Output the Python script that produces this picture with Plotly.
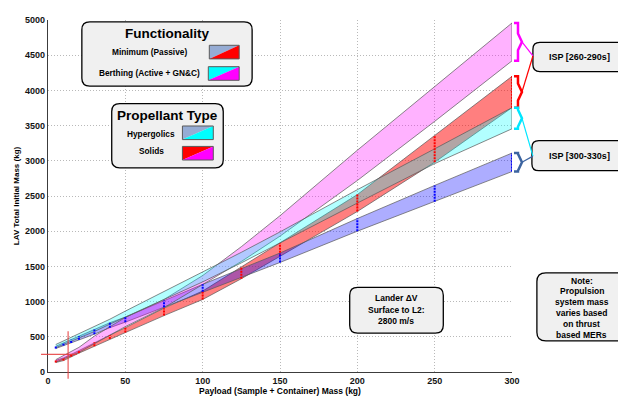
import plotly.graph_objects as go

# ---------------- data ----------------
payload_hyp = [5, 10, 15, 20, 30, 40, 50, 75, 100, 150, 200, 250, 300]
payload = [5, 10, 15, 20, 30, 40, 50, 75, 100, 125, 150, 200, 250, 300]

# Minimum (Passive) - Hypergolics  (ISP 300 -> upper, ISP 330 -> lower)
min_hyp_isp300 = [365, 412, 458, 510, 605, 700, 780, 1014, 1245, 1690, 2180, 2650, 3110]
min_hyp_isp330 = [333, 375, 412, 458, 537, 630, 708, 921, 1139, 1556, 2000, 2420, 2847]

# Minimum (Passive) - Solids (ISP 260 -> upper, ISP 290 -> lower)
min_sol_isp260 = [165, 200, 250, 306, 421, 523, 629, 907, 1150, 1495, 1830, 2520, 3360, 4200]
min_sol_isp290 = [135, 162, 218, 268, 365, 468, 560, 801, 1030, 1325, 1650, 2280, 2980, 3755]

# Berthing (Active + GN&C) - Hypergolics
ber_hyp_isp300 = [390, 440, 490, 540, 640, 750, 865, 1140, 1420, 1700, 1990, 2590, 3170, 3755]
ber_hyp_isp330 = [345, 390, 435, 480, 575, 680, 790, 1030, 1280, 1550, 1830, 2400, 2960, 3455]

# Berthing (Active + GN&C) - Solids
ber_sol_isp260 = [175, 230, 290, 350, 510, 640, 775, 1030, 1370, 1780, 2220, 3150, 4050, 4958]
ber_sol_isp290 = [140, 185, 230, 280, 400, 520, 645, 915, 1240, 1570, 1930, 2720, 3560, 4420]

x_ticks = [0, 50, 100, 150, 200, 250, 300]
y_ticks = [0, 500, 1000, 1500, 2000, 2500, 3000, 3500, 4000, 4500, 5000]

marker_point = (13, 250)

# ---------------- geometry helpers ----------------
# page body has an 8px margin; figure is sized so it ends at the window edge
OFF = 8
W, H = 626 - OFF, 401 - OFF
L, R, T, B = 46, 512, 15, 377   # plot area in window pixels


def px(x):
    return (x - L) / (R - L)


def py(y):
    return (B - y) / (B - T)


def rrect(x0, y0, x1, y1, r=7):
    rx = r / (R - L)
    ry = r / (B - T)
    X0, X1 = px(x0), px(x1)
    Y0, Y1 = py(y0), py(y1)
    return (f"M {X0+rx},{Y0} L {X1-rx},{Y0} Q {X1},{Y0} {X1},{Y0-ry} "
            f"L {X1},{Y1+ry} Q {X1},{Y1} {X1-rx},{Y1} L {X0+rx},{Y1} "
            f"Q {X0},{Y1} {X0},{Y1+ry} L {X0},{Y0-ry} Q {X0},{Y0} {X0+rx},{Y0} Z")


fig = go.Figure()


def band(xs, upper, lower, fill, name):
    fig.add_trace(go.Scatter(
        x=list(xs) + list(xs)[::-1],
        y=list(upper) + list(lower)[::-1],
        fill="toself", fillcolor=fill, mode="lines",
        line=dict(color="rgba(90,90,90,0.9)", width=0.8),
        name=name, showlegend=False, hoverinfo="skip"))


def ticks(xs, upper, lower, color):
    tx, ty = [], []
    for x, u, l in zip(xs, upper, lower):
        tx += [x, x, None]
        ty += [l, u, None]
    fig.add_trace(go.Scatter(x=tx, y=ty, mode="lines",
                             line=dict(color=color, width=2, dash="2px,1px"),
                             showlegend=False, hoverinfo="skip"))


band(payload, min_sol_isp260, min_sol_isp290, "rgba(255,0,0,0.5)", "Minimum - Solids")
band(payload_hyp, min_hyp_isp300, min_hyp_isp330, "rgba(0,0,255,0.32)", "Minimum - Hypergolics")
band(payload, ber_sol_isp260, ber_sol_isp290, "rgba(255,0,255,0.3)", "Berthing - Solids")
band(payload, ber_hyp_isp300, ber_hyp_isp330, "rgba(0,255,255,0.3)", "Berthing - Hypergolics")
ticks(payload, min_sol_isp260, min_sol_isp290, "rgb(255,0,0)")
ticks(payload_hyp, min_hyp_isp300, min_hyp_isp330, "rgb(0,0,255)")

shapes = []
annotations = []

# crosshair
mx, my = marker_point
shapes.append(dict(type="line", xref="paper", yref="y", x0=px(39), x1=px(75), y0=my, y1=my,
                   line=dict(color="rgba(230,60,60,0.85)", width=1.2)))
shapes.append(dict(type="line", xref="x", yref="paper", x0=mx, x1=mx, y0=py(335), y1=py(384),
                   line=dict(color="rgba(230,60,60,0.85)", width=1.2)))

BOXFILL = "rgb(240,240,240)"
FONT = "Liberation Sans, Arial, sans-serif"


def box(x0, y0, x1, y1, r=7):
    shapes.append(dict(type="path", xref="paper", yref="paper", path=rrect(x0, y0, x1, y1, r),
                       fillcolor=BOXFILL, line=dict(color="black", width=1.3), layer="above"))


def text(x, y, s, size=8.5, family=FONT, xanchor="center"):
    annotations.append(dict(xref="paper", yref="paper", x=px(x), y=py(y), text=s,
                            showarrow=False, xanchor=xanchor, yanchor="middle",
                            font=dict(size=size, family=family, color="black")))


def swatch(x0, y0, x1, y1, c1, c2):
    X0, X1, Y0, Y1 = px(x0), px(x1), py(y0), py(y1)
    shapes.append(dict(type="path", xref="paper", yref="paper",
                       path=f"M {X0},{Y0} L {X1},{Y0} L {X0},{Y1} Z",
                       fillcolor=c1, line=dict(width=0), layer="above"))
    shapes.append(dict(type="path", xref="paper", yref="paper",
                       path=f"M {X1},{Y0} L {X1},{Y1} L {X0},{Y1} Z",
                       fillcolor=c2, line=dict(width=0), layer="above"))
    shapes.append(dict(type="rect", xref="paper", yref="paper", x0=X0, x1=X1, y0=Y1, y1=Y0,
                       line=dict(color="rgb(90,90,90)", width=1), layer="above"))


STEEL = "rgb(150,172,212)"
# Functionality legend
box(80, 17, 251, 83, 8)
text(166, 29, "<b>Functionality</b>", size=13.5)
text(188, 48, "<b>Minimum (Passive)</b>", size=8.3, xanchor="right")
swatch(208, 41, 238, 55, STEEL, "rgb(255,0,0)")
text(201, 70, "<b>Berthing (Active + GN&C)</b>", size=8.3, xanchor="right")
swatch(207, 63, 238, 77, "rgb(0,255,255)", "rgb(255,0,255)")

# Propellant legend
box(110, 101, 222, 167, 8)
text(166, 113, "<b>Propellant Type</b>", size=13.5)
text(176, 132, "<b>Hypergolics</b>", size=8.3, xanchor="right")
swatch(181, 124, 212, 138, STEEL, "rgb(0,255,255)")
text(165, 150, "<b>Solids</b>", size=8.3, xanchor="right")
swatch(181, 145, 212, 159, "rgb(255,0,0)", "rgb(255,0,255)")

# Lander box
box(349, 290, 443, 337, 8)
text(396, 301, "<b>Lander ΔV</b>", size=8.5)
text(396, 313, "<b>Surface to L2:</b>", size=8.5)
text(396, 325, "<b>2800 m/s</b>", size=8.5)

# Note box
box(537, 275, 630, 345, 9)
for i, s in enumerate(["Note:", "Propulsion", "system mass", "varies based", "on thrust", "based MERs"]):
    text(582, 283 + i * 11.2, f"<b>{s}</b>", size=8.5)

# ISP boxes
box(533, 38, 630, 68, 7)
text(580, 53, "<b>ISP [260-290s]</b>", size=9)
box(532, 139, 630, 170, 7)
text(580, 155, "<b>ISP [300-330s]</b>", size=9)


# braces (span band end values at x = 300)
def brace(ytop, ybot, color):
    ym = (ytop + ybot) / 2
    a, b, c = px(514), px(518), px(522)
    d = 120
    shapes.append(dict(type="path", xref="paper", yref="y",
                       path=(f"M {a},{ytop} L {b},{ytop} L {b},{ym + d} L {c},{ym} "
                             f"L {b},{ym - d} L {b},{ybot} L {a},{ybot}"),
                       line=dict(color=color, width=2.5)))
    return ym


ym1 = brace(ber_sol_isp260[-1], ber_sol_isp290[-1], "rgb(255,0,255)")
ym2 = brace(min_sol_isp260[-1], min_sol_isp290[-1], "rgb(255,0,0)")
ym3 = brace(ber_hyp_isp300[-1], ber_hyp_isp330[-1], "rgb(0,230,255)")
ym4 = brace(min_hyp_isp300[-1], min_hyp_isp330[-1], "rgb(60,100,160)")

for ym, tgt, col in [(ym1, 52, "rgb(255,0,255)"), (ym2, 52, "rgb(255,0,0)"),
                     (ym3, 155, "rgb(0,230,255)"), (ym4, 155, "rgb(60,100,160)")]:
    shapes.append(dict(type="line", xref="paper", yref="paper",
                       x0=px(522), y0=(ym / 5000), x1=px(533), y1=py(tgt),
                       line=dict(color=col, width=1.2)))

axis_common = dict(showgrid=True, gridcolor="rgb(185,185,185)", griddash="1px,2px", gridwidth=1,
                   showline=True, linecolor="rgb(60,60,60)", linewidth=1.2, zeroline=False,
                   ticks="", tickfont=dict(size=9, family=FONT, color="rgb(20,20,20)"))

fig.update_layout(
    width=W, height=H,
    margin=dict(l=L - OFF, r=W - (R - OFF), t=T - OFF, b=H - (B - OFF)),
    paper_bgcolor="white", plot_bgcolor="white",
    showlegend=False,
    shapes=shapes, annotations=annotations,
    xaxis=dict(range=[0, 300], tickvals=x_ticks, ticktext=[f"<b>{v}</b>" for v in x_ticks],
               title=dict(text="<b>Payload (Sample + Container) Mass (kg)</b>", standoff=2,
                          font=dict(size=8.5, family=FONT, color="black")), **axis_common),
    yaxis=dict(range=[0, 5000], tickvals=y_ticks, ticktext=[f"<b>{v}</b>" for v in y_ticks],
               title=dict(text="<b>LAV Total Initial Mass (kg)</b>", standoff=4,
                          font=dict(size=8, family=FONT, color="black")), **axis_common),
)

fig.write_html("out.html")
